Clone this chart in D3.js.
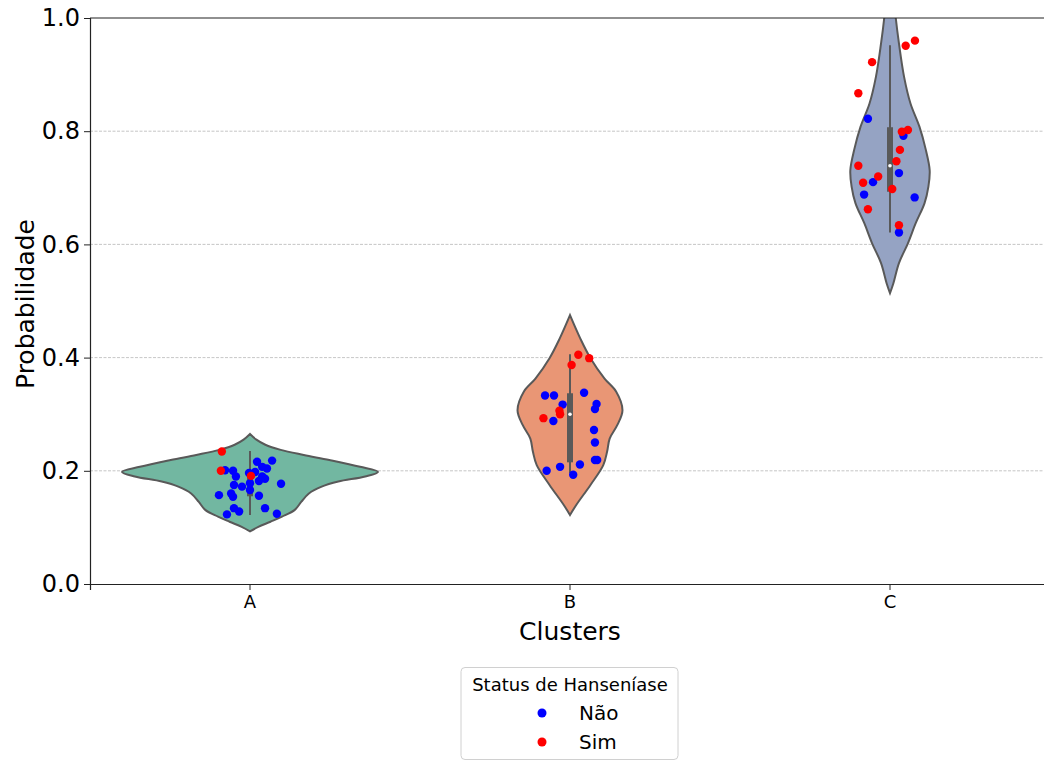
<!DOCTYPE html>
<html>
<head>
<meta charset="utf-8">
<script src="https://cdn.jsdelivr.net/npm/d3@7"></script>
<style>
  body { margin: 0; background: #fff; }
  text { font-family: "DejaVu Sans", sans-serif; fill: #000; }
</style>
</head>
<body>
<script>
// categories and ticks
const clusters = ["A", "B", "C"];
const yTicks = [0, 0.2, 0.4, 0.6, 0.8, 1.0];
const statusLevels = ["Não", "Sim"];

// violin outlines: [probabilidade, relative density]
const densityA = [
  [0.093, 0], [0.101, 0.065], [0.110, 0.16], [0.119, 0.25], [0.131, 0.35], [0.145, 0.40],
  [0.160, 0.46], [0.172, 0.56], [0.181, 0.69], [0.190, 0.90], [0.198, 1.0], [0.207, 0.86],
  [0.219, 0.62], [0.228, 0.42], [0.237, 0.24], [0.246, 0.12], [0.255, 0.05], [0.265, 0]
];
const densityB = [
  [0.122, 0], [0.140, 0.05], [0.175, 0.16], [0.210, 0.26], [0.234, 0.29], [0.257, 0.31],
  [0.281, 0.37], [0.307, 0.41], [0.340, 0.36], [0.363, 0.27], [0.399, 0.16], [0.434, 0.08],
  [0.475, 0]
];
const densityC = [
  [0.514, 0], [0.531, 0.026], [0.567, 0.07], [0.602, 0.14], [0.637, 0.20], [0.673, 0.27],
  [0.702, 0.30], [0.731, 0.31], [0.767, 0.28], [0.808, 0.23], [0.849, 0.16], [0.896, 0.11],
  [0.955, 0.07], [1.00, 0.045], [1.05, 0.025], [1.10, 0]
];

// inner box: [whisker low, q1, median, q3, whisker high]
const boxA = [0.122, 0.155, 0.180, 0.200, 0.235];
const boxB = [0.196, 0.215, 0.300, 0.337, 0.406];
const boxC = [0.621, 0.693, 0.739, 0.807, 0.952];

// strip points: [probabilidade, jitter (category units), status]
const pointsA = [
  [0.201, -0.078, "Não"], [0.200, -0.053, "Não"], [0.190, -0.044, "Não"], [0.175, -0.050, "Não"],
  [0.172, -0.025, "Não"], [0.178, 0.000, "Não"], [0.166, 0.000, "Não"], [0.160, -0.059, "Não"],
  [0.154, -0.053, "Não"], [0.157, -0.097, "Não"], [0.216, 0.022, "Não"], [0.207, 0.038, "Não"],
  [0.204, 0.053, "Não"], [0.218, 0.069, "Não"], [0.198, 0.016, "Não"], [0.190, 0.038, "Não"],
  [0.182, 0.028, "Não"], [0.186, 0.047, "Não"], [0.177, 0.097, "Não"], [0.156, 0.028, "Não"],
  [0.134, 0.047, "Não"], [0.124, 0.084, "Não"], [0.134, -0.050, "Não"], [0.128, -0.034, "Não"],
  [0.123, -0.072, "Não"], [0.196, -0.003, "Não"],
  [0.234, -0.088, "Sim"], [0.200, -0.091, "Sim"], [0.191, 0.003, "Sim"]
];
const pointsB = [
  [0.333, -0.078, "Não"], [0.333, -0.050, "Não"], [0.317, -0.023, "Não"], [0.338, 0.044, "Não"],
  [0.318, 0.083, "Não"], [0.309, 0.078, "Não"], [0.288, -0.052, "Não"], [0.272, 0.075, "Não"],
  [0.250, 0.078, "Não"], [0.219, 0.078, "Não"], [0.219, 0.085, "Não"], [0.211, 0.031, "Não"],
  [0.207, -0.031, "Não"], [0.200, -0.073, "Não"], [0.193, 0.010, "Não"],
  [0.405, 0.026, "Sim"], [0.399, 0.060, "Sim"], [0.387, 0.005, "Sim"], [0.306, -0.033, "Sim"],
  [0.300, -0.031, "Sim"], [0.293, -0.083, "Sim"]
];
const pointsC = [
  [0.822, -0.069, "Não"], [0.792, 0.042, "Não"], [0.726, 0.028, "Não"], [0.710, -0.053, "Não"],
  [0.688, -0.081, "Não"], [0.683, 0.077, "Não"], [0.621, 0.028, "Não"],
  [0.960, 0.078, "Sim"], [0.951, 0.049, "Sim"], [0.922, -0.056, "Sim"], [0.867, -0.099, "Sim"],
  [0.802, 0.056, "Sim"], [0.799, 0.037, "Sim"], [0.767, 0.031, "Sim"], [0.747, 0.020, "Sim"],
  [0.739, -0.099, "Sim"], [0.720, -0.037, "Sim"], [0.709, -0.084, "Sim"], [0.698, 0.007, "Sim"],
  [0.662, -0.069, "Sim"], [0.634, 0.028, "Sim"]
];

const densities = [densityA, densityB, densityC];
const boxes = [boxA, boxB, boxC];
const points = [pointsA, pointsB, pointsC];
const fills = ["#72b7a1", "#e99675", "#95a3c3"];
const statusColors = { "Não": "#0000ff", "Sim": "#ff0000" };

const width = 1044, height = 760;
const margin = { top: 18, left: 90 };
const plotW = 960, plotH = 566;

const svg = d3.select("body").append("svg")
  .attr("width", width)
  .attr("height", height);

const x = d3.scaleBand().domain(clusters).range([margin.left, margin.left + plotW]).padding(0);
const unit = x.bandwidth();
const cx = (c) => x(c) + unit / 2;
const y = d3.scaleLinear().domain([0, 1]).range([margin.top + plotH, margin.top]);
const w = d3.scaleLinear().domain([0, 1]).range([0, unit * 0.4]);

svg.append("clipPath").attr("id", "plot-clip")
  .append("rect")
  .attr("x", margin.left).attr("y", margin.top)
  .attr("width", plotW).attr("height", plotH);

// grid
svg.append("g")
  .selectAll("line")
  .data(yTicks.filter((t) => t > 0 && t < 1))
  .enter()
  .append("line")
  .attr("x1", margin.left).attr("x2", margin.left + plotW)
  .attr("y1", (d) => y(d)).attr("y2", (d) => y(d))
  .attr("stroke", "#b8b8b8")
  .attr("stroke-width", 0.8)
  .attr("stroke-dasharray", "3,1.5");

const plot = svg.append("g").attr("clip-path", "url(#plot-clip)");

// violins
const area = d3.area()
  .curve(d3.curveCatmullRom.alpha(0.5))
  .y((d) => y(d[0]));

clusters.forEach((c, i) => {
  plot.append("path")
    .datum(densities[i])
    .attr("d", area.x0((d) => cx(c) - w(d[1])).x1((d) => cx(c) + w(d[1])))
    .attr("fill", fills[i])
    .attr("stroke", "#595959")
    .attr("stroke-width", 2);

  const b = boxes[i];
  plot.append("line")
    .attr("x1", cx(c)).attr("x2", cx(c))
    .attr("y1", y(b[0])).attr("y2", y(b[4]))
    .attr("stroke", "#595959")
    .attr("stroke-width", 2);
  plot.append("rect")
    .attr("x", cx(c) - 3).attr("width", 6)
    .attr("y", y(b[3])).attr("height", y(b[1]) - y(b[3]))
    .attr("fill", "#595959");
  plot.append("circle")
    .attr("cx", cx(c)).attr("cy", y(b[2]))
    .attr("r", 1.8)
    .attr("fill", "#fff");
});

// strip points
clusters.forEach((c, i) => {
  plot.selectAll(`circle.pt${c}`)
    .data(points[i])
    .enter()
    .append("circle")
    .attr("class", `pt${c}`)
    .attr("cx", (d) => cx(c) + d[1] * unit)
    .attr("cy", (d) => y(d[0]))
    .attr("r", 4.2)
    .attr("fill", (d) => statusColors[d[2]]);
});

// axes
const yAxis = svg.append("g")
  .attr("transform", `translate(${margin.left},0)`)
  .call(d3.axisLeft(y).tickValues(yTicks).tickFormat(d3.format(".1f")).tickSize(6).tickPadding(4));
yAxis.selectAll("text").style("font-size", "24px");

const xAxis = svg.append("g")
  .attr("transform", `translate(0,${margin.top + plotH})`)
  .call(d3.axisBottom(x).tickSize(6).tickPadding(5));
xAxis.selectAll("text").style("font-size", "18px");

svg.selectAll(".domain").attr("stroke", "#222").attr("stroke-width", 1.2);
svg.selectAll(".tick line").attr("stroke", "#222");

// top spine
svg.append("line")
  .attr("x1", margin.left).attr("x2", margin.left + plotW)
  .attr("y1", margin.top).attr("y2", margin.top)
  .attr("stroke", "#222").attr("stroke-width", 1.2);

// labels
svg.append("text")
  .attr("x", 570).attr("y", 640)
  .attr("text-anchor", "middle")
  .style("font-size", "25px")
  .text("Clusters");

svg.append("text")
  .attr("transform", "translate(34,304) rotate(-90)")
  .attr("text-anchor", "middle")
  .style("font-size", "25px")
  .text("Probabilidade");

// legend
const legend = svg.append("g");
legend.append("rect")
  .attr("x", 461).attr("y", 667.5)
  .attr("width", 217).attr("height", 92)
  .attr("rx", 4)
  .attr("fill", "#fff")
  .attr("stroke", "#d0d0d0");
legend.append("text")
  .attr("x", 570).attr("y", 691)
  .attr("text-anchor", "middle")
  .style("font-size", "18px")
  .text("Status de Hanseníase");
const entry = legend.selectAll("g.entry")
  .data(statusLevels)
  .enter()
  .append("g")
  .attr("class", "entry")
  .attr("transform", (_, i) => `translate(0,${713 + i * 29})`);
entry.append("circle")
  .attr("cx", 542).attr("cy", 0).attr("r", 4.5)
  .attr("fill", (d) => statusColors[d]);
entry.append("text")
  .attr("x", 579).attr("y", 7)
  .style("font-size", "20px")
  .text((d) => d);
</script>
</body>
</html>
